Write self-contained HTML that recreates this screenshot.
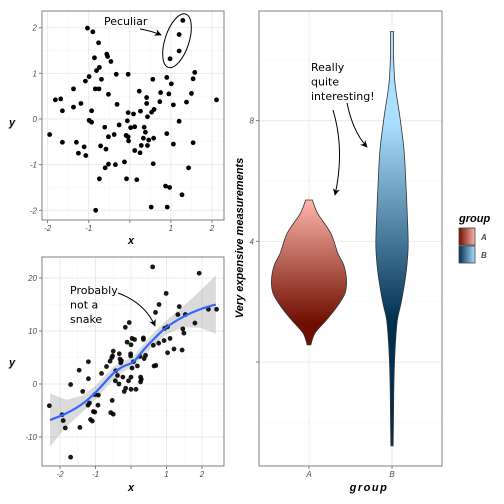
<!DOCTYPE html>
<html><head><meta charset="utf-8"><style>
html,body{margin:0;padding:0;background:#fff;}
svg{display:block;font-family:"Liberation Sans",sans-serif;}
.tick{font-size:8px;fill:#4d4d4d;font-style:italic;}
.ann{font-family:"DejaVu Sans","Liberation Sans",sans-serif;font-size:11px;fill:#000;}
.ttl{font-size:11px;font-weight:bold;font-style:italic;fill:#000;}
</style></head><body>
<svg id="c" width="504" height="504" viewBox="0 0 504 504">
<defs>
<linearGradient id="gA" x1="0" y1="1" x2="0" y2="0"><stop offset="0.15" stop-color="#6e0e00"/><stop offset="1" stop-color="#ffb5ab"/></linearGradient>
<linearGradient id="gB" x1="0" y1="1" x2="0" y2="0"><stop offset="0.3" stop-color="#00304f"/><stop offset="0.78" stop-color="#abdfff"/></linearGradient>
<linearGradient id="lA" x1="0" y1="0" x2="1" y2="0"><stop offset="0" stop-color="#6e0e00"/><stop offset="1" stop-color="#ffb5ab"/></linearGradient>
<linearGradient id="lB" x1="0" y1="0" x2="1" y2="0"><stop offset="0" stop-color="#00304f"/><stop offset="1" stop-color="#abdfff"/></linearGradient>
<marker id="ah" viewBox="0 0 10 10" refX="9" refY="5" markerWidth="7" markerHeight="7" orient="auto"><path d="M0,0 L10,5 L0,10 L3,5 z" fill="#000"/></marker>
</defs>
</svg>
<script>
// ---- Panel 1 data ----
const p1x=[-1.03,-0.90,-0.76,-0.56,-0.54,-0.46,-0.86,-0.74,-0.81,-0.99,-1.08,-0.69,-0.33,-0.04,-1.37,-0.84,-0.75,-0.52,-1.81,-1.68,-1.19,-1.64,-1.37,-0.93,-0.31,-0.99,-0.93,-1.95,-1.64,-1.30,-1.25,-1.11,-1.07,-0.61,-0.52,-0.38,-0.26,-0.71,-0.58,-0.74,-0.60,-0.52,-0.35,-0.13,-0.08,0.17,-0.83,-0.04,0.09,-0.06,0.02,0.12,-0.09,-0.04,-0.03,0.23,0.26,0.41,0.41,0.43,0.56,0.53,0.59,0.73,0.75,0.90,0.95,1.01,1.06,0.35,0.38,0.33,0.46,0.43,0.28,0.58,0.25,0.12,0.57,0.90,1.06,1.20,1.38,1.50,1.54,1.58,2.11,1.54,1.43,0.87,0.97,1.27,0.52,0.91,0.98,1.20,1.20,1.29];
const p1y=[1.99,1.91,1.67,1.42,1.37,1.26,1.34,1.13,1.06,0.93,0.83,0.87,0.98,0.98,0.66,0.66,0.66,0.54,0.42,0.44,0.34,0.18,0.26,0.18,0.32,-0.03,-0.07,-0.34,-0.51,-0.51,-0.75,-0.61,-0.80,-0.18,-0.39,-0.34,-0.13,-0.59,-0.66,-1.31,-1.07,-0.99,-1.00,-0.94,-1.31,-1.33,-2.00,0.14,0.11,-0.04,-0.19,-0.17,-0.36,-0.39,-0.48,0.61,0.17,0.47,0.34,0.05,0.87,0.15,0.21,0.38,0.58,0.91,0.55,0.77,0.31,-0.18,-0.29,-0.42,-0.46,-0.58,-0.58,-0.42,-0.74,-0.69,-0.98,-0.32,-0.55,-0.05,0.37,0.56,0.88,1.02,0.42,-0.52,-1.07,-1.47,-1.50,-1.66,-1.93,-1.93,1.32,1.49,1.85,2.16];
const p1ticks=[-2,-1,0,1,2];
// ---- Panel 2 data ----
const p2x=[0.61,1.92,0.99,0.79,0.69,1.36,1.32,1.53,1.46,1.49,2.18,2.41,1.80,0.95,1.03,0.93,1.10,1.03,1.21,1.44,0.78,0.63,0.65,0.70,-0.05,-0.16,-0.11,0.03,0.10,0.00,0.35,0.35,0.37,0.41,0.25,0.18,-0.01,-0.01,0.07,0.03,0.27,0.29,0.27,0.00,-0.07,-0.23,-0.50,-0.52,-0.54,-0.33,-0.31,-0.29,-0.27,-0.59,-0.69,-0.83,-0.43,-0.38,-0.44,-0.34,-0.15,-0.19,0.00,0.14,-1.46,-1.20,-1.20,-1.36,-1.70,-1.02,-0.92,-1.17,-1.21,-0.93,-1.06,-1.02,-1.14,-1.09,-0.57,-0.50,-0.53,-2.30,-1.94,-1.91,-1.85,-1.44,-1.70];
const p2y=[22.1,20.9,17.1,15.0,13.5,14.6,13.1,13.1,10.4,9.6,14.1,14.1,11.5,10.5,10.8,8.2,8.6,5.9,6.6,6.4,7.7,7.3,3.4,3.5,11.6,10.7,7.9,8.6,8.4,7.4,8.7,8.4,4.8,5.4,5.2,3.4,5.7,5.3,4.2,3.0,1.3,0.9,0.4,1.3,0.6,1.3,6.2,5.3,5.0,5.7,4.7,4.0,4.4,4.3,3.3,2.0,2.5,1.6,0.6,0.0,-0.8,-1.4,-1.0,-1.0,2.6,4.2,1.0,-1.4,-0.1,-2.0,-2.1,-3.6,-4.0,-4.0,-5.2,-5.3,-6.7,-7.0,-5.4,-5.7,-3.1,-4.1,-5.8,-6.9,-8.3,-8.2,-13.8];
const fitX=[-2.28,-1.81,-1.34,-0.97,-0.50,-0.22,0.07,0.35,0.63,1.00,1.48,1.95,2.39];
const fitY=[-6.8,-5.5,-3.6,-1.4,2.0,3.3,4.2,6.4,8.4,10.7,12.7,14.1,15.0];
const fitSE=[5.0,2.5,1.5,1.3,1.2,1.0,1.0,1.1,1.2,1.3,2.0,3.5,5.5];
const p2xticks=[-2,-1,0,1,2];
const p2yticks=[-10,0,10,20];
// ---- Violin data ----
const vAy=[5.37,4.93,4.27,3.6,3.2,2.72,2.28,1.84,1.4,0.96,0.57];
const vAd=[0.09,0.23,0.58,0.77,0.93,1.0,0.96,0.75,0.47,0.16,0.05];
const vBy=[10.95,10.23,9.24,8.13,7.03,5.93,4.8,3.8,2.9,2.0,1.36,0.37,-0.73,-1.83,-2.78];
const vBd=[0.045,0.04,0.08,0.21,0.32,0.37,0.41,0.43,0.37,0.25,0.14,0.08,0.05,0.04,0.03];
const vGroups=['A','B'];
const vYticks=[0,4,8];

const svg=document.getElementById('c');
const NS='http://www.w3.org/2000/svg';
function mk(tag,attrs,parent){const e=document.createElementNS(NS,tag);for(const k in attrs)e.setAttribute(k,attrs[k]);(parent||svg).appendChild(e);return e;}
function txt(s,x,y,cls,anchor,parent){const t=mk('text',{x:x,y:y,class:cls,'text-anchor':anchor||'middle'},parent);t.textContent=s;return t;}

function panel(name,L,R,T,B,xs,ys,xmaj,ymaj,xmin,ymin,ylabels){
  const g=mk('g',{});
  
  
  mk('rect',{x:L,y:T,width:R-L,height:B-T,fill:'#fff'},g);
  xmin.forEach(v=>mk('line',{x1:xs(v),x2:xs(v),y1:T,y2:B,stroke:'#f5f5f5','stroke-width':0.6},g));
  ymin.forEach(v=>mk('line',{x1:L,x2:R,y1:ys(v),y2:ys(v),stroke:'#f5f5f5','stroke-width':0.6},g));
  xmaj.forEach(v=>mk('line',{x1:xs(v),x2:xs(v),y1:T,y2:B,stroke:'#ebebeb','stroke-width':1},g));
  ymaj.forEach(v=>mk('line',{x1:L,x2:R,y1:ys(v),y2:ys(v),stroke:'#ebebeb','stroke-width':1},g));
  mk('rect',{x:L,y:T,width:R-L,height:B-T,fill:'none',stroke:'#7f7f7f','stroke-width':1},g);
  ymaj.forEach((v,i)=>{mk('line',{x1:L-3,x2:L,y1:ys(v),y2:ys(v),stroke:'#7f7f7f'},g);
    const lab=ylabels?ylabels[i]:String(v); if(lab!=='') txt(lab,L-5,ys(v)+3,'tick','end',g);});
  return g;
}
// Panel 1
const x1=v=>129.8+41.1*v, y1=v=>119-45.65*v;
const g1=panel('scatter-panel-top',42,224,11,220,x1,y1,p1ticks,p1ticks,[-1.5,-0.5,0.5,1.5],[-1.5,-0.5,0.5,1.5]);
p1ticks.forEach(v=>{mk('line',{x1:x1(v),x2:x1(v),y1:220,y2:223,stroke:'#7f7f7f'},g1);txt(v===0?'':String(v),x1(v),231,'tick','middle',g1);});
p1x.forEach((v,i)=>{const c=mk('circle',{cx:x1(v),cy:y1(p1y[i]),r:2.4,fill:'#000'},g1);

});
const el=mk('ellipse',{cx:177,cy:40.7,rx:12,ry:28,fill:'none',stroke:'#000','stroke-width':1,transform:'rotate(18 177 40.7)'},g1);

const t1=txt('Peculiar',104,25,'ann','start',g1);
mk('path',{d:'M140,29 Q152,31 161,35',fill:'none',stroke:'#000','stroke-width':1,'marker-end':'url(#ah)'},g1);
const xt1=txt('x',131,244,'ttl','middle',g1);
const yt1=txt('y',12,126,'ttl','middle',g1);

// Panel 2
const x2=v=>131+35.5*v, y2=v=>384-5.3*v;
const g2=panel('scatter-panel-bottom',42,224,257,466,x2,y2,p2xticks,p2yticks,[-1.5,-0.5,0.5,1.5],[-5,5,15]);
p2xticks.forEach(v=>{mk('line',{x1:x2(v),x2:x2(v),y1:466,y2:469,stroke:'#7f7f7f'},g2);txt(v===0?'':String(v),x2(v),477,'tick','middle',g2);});
let band='';fitX.forEach((v,i)=>band+=(i?'L':'M')+x2(v)+','+y2(fitY[i]+fitSE[i]));
for(let i=fitX.length-1;i>=0;i--)band+='L'+x2(fitX[i])+','+y2(fitY[i]-fitSE[i]);
const bd=mk('path',{d:band+'Z',fill:'#999','fill-opacity':0.35},g2);
p2x.forEach((v,i)=>{const c=mk('circle',{cx:x2(v),cy:y2(p2y[i]),r:2.4,fill:'#000','fill-opacity':0.9},g2);

});
function smooth(px,py){let d='M'+px[0]+','+py[0];for(let i=0;i<px.length-1;i++){const p0=i?i-1:i,p3=i+2<px.length?i+2:i+1;
const c1x=px[i]+(px[i+1]-px[p0])/6,c1y=py[i]+(py[i+1]-py[p0])/6,c2x=px[i+1]-(px[p3]-px[i])/6,c2y=py[i+1]-(py[p3]-py[i])/6;
d+=`C${c1x},${c1y} ${c2x},${c2y} ${px[i+1]},${py[i+1]}`;}return d;}
const fl=mk('path',{d:smooth(fitX.map(x2),fitY.map(y2)),fill:'none',stroke:'#3366ff','stroke-width':2.2},g2);

['Probably','not a','snake'].forEach((s,i)=>{const t=txt(s,70,294+i*14.5,'ann','start',g2);});
mk('path',{d:'M118,293 Q145,303 155,326',fill:'none',stroke:'#000','stroke-width':1,'marker-end':'url(#ah)'},g2);
const xt2=txt('x',131,491,'ttl','middle',g2);
const yt2=txt('y',12,366,'ttl','middle',g2);

// Violin panel
const vx={A:309,B:392}, vy=v=>362-30.17*v, wscale=37.5;
const g3=panel('violin-panel',259,442,11,466,v=>v,vy,[],vYticks,[],[-2,2,6,10],['','4','8']);
vGroups.forEach(k=>mk('line',{x1:vx[k],x2:vx[k],y1:11,y2:466,stroke:'#ebebeb'},g3));
mk('rect',{x:259,y:11,width:183,height:455,fill:'none',stroke:'#7f7f7f'},g3);
vGroups.forEach(k=>{mk('line',{x1:vx[k],x2:vx[k],y1:466,y2:469,stroke:'#7f7f7f'},g3);txt(k,vx[k],477,'tick','middle',g3);});
function violin(k,ys,ds,fill){const cx=vx[k];const R=ys.map((y,i)=>[cx+ds[i]*wscale,vy(y)]);const Lp=ys.map((y,i)=>[cx-ds[i]*wscale,vy(y)]).reverse();
let d=smooth(R.map(p=>p[0]),R.map(p=>p[1]));const l=smooth(Lp.map(p=>p[0]),Lp.map(p=>p[1]));
d+='L'+l.slice(1)+'Z';const p=mk('path',{d:d,fill:fill,stroke:'#333','stroke-width':0.8},g3);return p;}
const va=violin('A',vAy,vAd,'url(#gA)');
const vb=violin('B',vBy,vBd,'url(#gB)');
['Really','quite','interesting!'].forEach((s,i)=>{const t=txt(s,311,71+i*14.5,'ann','start',g3);});
mk('path',{d:'M333,110 Q345,150 335,195',fill:'none',stroke:'#000','stroke-width':1,'marker-end':'url(#ah)'},g3);
mk('path',{d:'M347,103 Q353,132 367,147',fill:'none',stroke:'#000','stroke-width':1,'marker-end':'url(#ah)'},g3);
const gx=txt('group',369,491,'ttl','middle',g3);gx.setAttribute('letter-spacing','1.5');
const gy=txt('Very expensive measurements',0,0,'ttl','middle',g3);gy.setAttribute('font-size','10');gy.setAttribute('font-weight','normal');gy.setAttribute('transform','translate(243,238) rotate(-90)');

// Legend
const lg=mk('g',{});


txt('group',459,222,'ttl','start',lg);
mk('rect',{x:459,y:228,width:16,height:17,fill:'url(#lA)',stroke:'#444','stroke-width':0.8},lg);
mk('rect',{x:459,y:246,width:16,height:17,fill:'url(#lB)',stroke:'#444','stroke-width':0.8},lg);
const la=txt('A',481,240,'tick','start',lg);la.setAttribute('font-weight','bold');la.setAttribute('fill','#000');
const lb=txt('B',481,258,'tick','start',lg);lb.setAttribute('font-weight','bold');lb.setAttribute('fill','#000');
</script>
</body></html>
